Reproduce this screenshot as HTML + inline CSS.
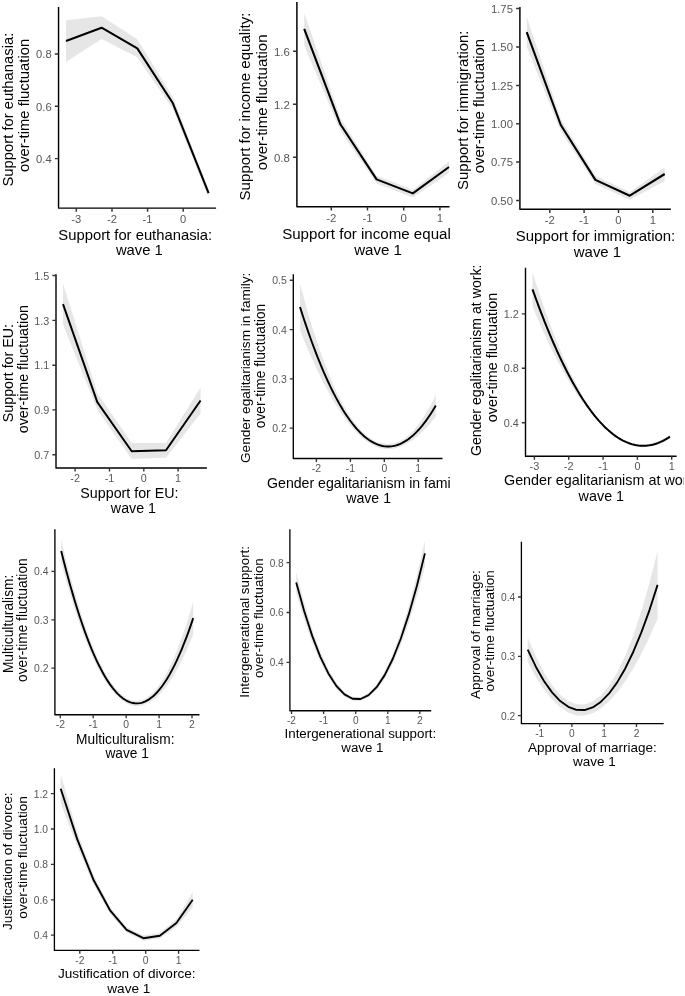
<!DOCTYPE html>
<html><head><meta charset="utf-8"><title>Figure</title>
<style>
html,body{margin:0;padding:0;background:#fff;}
body{width:685px;height:996px;overflow:hidden;font-family:"Liberation Sans",sans-serif;}
svg{display:block;}
svg text{font-family:"Liberation Sans",sans-serif;}
.t{fill:#000;}
.k{fill:#575757;}
</style></head><body>
<svg width="685" height="996" viewBox="0 0 685 996">
<defs><filter id="soft" filterUnits="userSpaceOnUse" x="0" y="0" width="685" height="996"><feGaussianBlur stdDeviation="0.35"/></filter></defs>
<rect x="0" y="0" width="685" height="996" fill="#ffffff"/>
<g filter="url(#soft)">

<clipPath id="c0"><rect x="0.00" y="0.00" width="228.00" height="262.00"/></clipPath>
<g clip-path="url(#c0)">
<polygon points="66.00,20.20 101.60,16.20 137.30,39.30 172.90,97.30 208.60,189.50 208.60,197.70 172.90,108.90 137.30,57.30 101.60,38.90 66.00,62.00" fill="#e6e6e6"/>
<polyline points="66.00,41.00 101.60,27.70 137.30,48.40 172.90,103.30 208.60,193.10" fill="none" stroke="#000" stroke-width="2.05" stroke-linejoin="round" stroke-linecap="butt"/>
<path d="M58.55 7.00 V208.10 H216.10" fill="none" stroke="#000" stroke-width="1.45" stroke-linejoin="round"/>
<path d="M54.80 54.00H58.55M54.80 106.30H58.55M54.80 158.60H58.55M76.30 208.10V211.85M112.00 208.10V211.85M147.60 208.10V211.85M183.20 208.10V211.85" stroke="#333333" stroke-width="1.45" fill="none"/>
<text class="k" font-size="11.20" x="51.65" y="58.30" text-anchor="end">0.8</text>
<text class="k" font-size="11.20" x="51.65" y="110.60" text-anchor="end">0.6</text>
<text class="k" font-size="11.20" x="51.65" y="162.90" text-anchor="end">0.4</text>
<text class="k" font-size="11.20" x="76.30" y="222.90" text-anchor="middle">-3</text>
<text class="k" font-size="11.20" x="112.00" y="222.90" text-anchor="middle">-2</text>
<text class="k" font-size="11.20" x="147.60" y="222.90" text-anchor="middle">-1</text>
<text class="k" font-size="11.20" x="183.20" y="222.90" text-anchor="middle">0</text>
<text class="t" font-size="14.80" x="135.27" y="239.50" text-anchor="middle">Support for euthanasia:</text>
<text class="t" font-size="14.80" x="139.38" y="255.30" text-anchor="middle">wave 1</text>
<text class="t" font-size="14.80" transform="translate(12.98 109.61) rotate(-90)" text-anchor="middle">Support for euthanasia:</text>
<text class="t" font-size="14.80" transform="translate(28.78 105.49) rotate(-90)" text-anchor="middle">over-time fluctuation</text>
</g>
<clipPath id="c1"><rect x="228.00" y="0.00" width="222.00" height="262.00"/></clipPath>
<g clip-path="url(#c1)">
<polygon points="304.20,13.00 340.40,118.00 376.60,175.70 412.80,189.70 449.00,161.60 449.00,172.90 412.80,197.40 376.60,183.40 340.40,130.80 304.20,45.50" fill="#e6e6e6"/>
<polyline points="304.20,28.80 340.40,124.30 376.60,179.40 412.80,193.40 449.00,167.00" fill="none" stroke="#000" stroke-width="2.09" stroke-linejoin="round" stroke-linecap="butt"/>
<path d="M296.90 2.00 V206.80 H449.50" fill="none" stroke="#000" stroke-width="1.48" stroke-linejoin="round"/>
<path d="M293.07 51.20H296.90M293.07 104.20H296.90M293.07 157.20H296.90M331.30 206.80V210.62M367.50 206.80V210.62M403.70 206.80V210.62M439.90 206.80V210.62" stroke="#333333" stroke-width="1.48" fill="none"/>
<text class="k" font-size="11.42" x="289.86" y="55.59" text-anchor="end">1.6</text>
<text class="k" font-size="11.42" x="289.86" y="108.59" text-anchor="end">1.2</text>
<text class="k" font-size="11.42" x="289.86" y="161.59" text-anchor="end">0.8</text>
<text class="k" font-size="11.42" x="331.30" y="221.90" text-anchor="middle">-2</text>
<text class="k" font-size="11.42" x="367.50" y="221.90" text-anchor="middle">-1</text>
<text class="k" font-size="11.42" x="403.70" y="221.90" text-anchor="middle">0</text>
<text class="k" font-size="11.42" x="439.90" y="221.90" text-anchor="middle">1</text>
<text class="t" font-size="15.10" x="376.10" y="238.83" text-anchor="middle">Support for income equality:</text>
<text class="t" font-size="15.10" x="378.10" y="254.94" text-anchor="middle">wave 1</text>
<text class="t" font-size="15.10" transform="translate(250.42 106.50) rotate(-90)" text-anchor="middle">Support for income equality:</text>
<text class="t" font-size="15.10" transform="translate(266.54 102.30) rotate(-90)" text-anchor="middle">over-time fluctuation</text>
</g>
<clipPath id="c2"><rect x="452.00" y="0.00" width="233.00" height="262.00"/></clipPath>
<g clip-path="url(#c2)">
<polygon points="526.70,16.80 560.80,119.10 595.40,175.70 629.80,192.00 664.70,167.50 664.70,181.00 629.80,199.70 595.40,184.10 560.80,131.30 526.70,46.70" fill="#e6e6e6"/>
<polyline points="526.70,32.20 560.80,125.00 595.40,179.90 629.80,195.70 664.70,174.00" fill="none" stroke="#000" stroke-width="2.07" stroke-linejoin="round" stroke-linecap="butt"/>
<path d="M519.90 7.00 V209.30 H670.90" fill="none" stroke="#000" stroke-width="1.46" stroke-linejoin="round"/>
<path d="M516.11 8.60H519.90M516.11 47.00H519.90M516.11 85.40H519.90M516.11 123.80H519.90M516.11 162.10H519.90M516.11 200.50H519.90M549.80 209.30V213.09M584.10 209.30V213.09M618.50 209.30V213.09M652.80 209.30V213.09" stroke="#333333" stroke-width="1.46" fill="none"/>
<text class="k" font-size="11.31" x="512.93" y="12.94" text-anchor="end">1.75</text>
<text class="k" font-size="11.31" x="512.93" y="51.34" text-anchor="end">1.50</text>
<text class="k" font-size="11.31" x="512.93" y="89.74" text-anchor="end">1.25</text>
<text class="k" font-size="11.31" x="512.93" y="128.14" text-anchor="end">1.00</text>
<text class="k" font-size="11.31" x="512.93" y="166.44" text-anchor="end">0.75</text>
<text class="k" font-size="11.31" x="512.93" y="204.84" text-anchor="end">0.50</text>
<text class="k" font-size="11.31" x="549.80" y="224.25" text-anchor="middle">-2</text>
<text class="k" font-size="11.31" x="584.10" y="224.25" text-anchor="middle">-1</text>
<text class="k" font-size="11.31" x="618.50" y="224.25" text-anchor="middle">0</text>
<text class="k" font-size="11.31" x="652.80" y="224.25" text-anchor="middle">1</text>
<text class="t" font-size="14.95" x="595.52" y="241.01" text-anchor="middle">Support for immigration:</text>
<text class="t" font-size="14.95" x="597.48" y="256.97" text-anchor="middle">wave 1</text>
<text class="t" font-size="14.95" transform="translate(467.59 110.23) rotate(-90)" text-anchor="middle">Support for immigration:</text>
<text class="t" font-size="14.95" transform="translate(483.54 106.07) rotate(-90)" text-anchor="middle">over-time fluctuation</text>
</g>
<clipPath id="c3"><rect x="0.00" y="262.00" width="228.00" height="260.00"/></clipPath>
<g clip-path="url(#c3)">
<polygon points="63.00,283.40 97.30,393.00 131.70,443.00 166.00,443.00 200.60,387.60 200.60,413.30 166.00,457.70 131.70,458.90 97.30,409.80 63.00,324.60" fill="#e6e6e6"/>
<polyline points="63.00,304.20 97.30,402.10 131.70,451.20 166.00,450.20 200.60,400.50" fill="none" stroke="#000" stroke-width="1.97" stroke-linejoin="round" stroke-linecap="butt"/>
<path d="M56.00 274.30 V467.95 H206.90" fill="none" stroke="#000" stroke-width="1.40" stroke-linejoin="round"/>
<path d="M52.39 275.50H56.00M52.39 320.40H56.00M52.39 365.20H56.00M52.39 409.90H56.00M52.39 454.70H56.00M75.10 467.95V471.56M109.50 467.95V471.56M143.80 467.95V471.56M178.10 467.95V471.56" stroke="#333333" stroke-width="1.40" fill="none"/>
<text class="k" font-size="10.79" x="49.36" y="279.64" text-anchor="end">1.5</text>
<text class="k" font-size="10.79" x="49.36" y="324.54" text-anchor="end">1.3</text>
<text class="k" font-size="10.79" x="49.36" y="369.34" text-anchor="end">1.1</text>
<text class="k" font-size="10.79" x="49.36" y="414.04" text-anchor="end">0.9</text>
<text class="k" font-size="10.79" x="49.36" y="458.84" text-anchor="end">0.7</text>
<text class="k" font-size="10.79" x="75.10" y="482.20" text-anchor="middle">-2</text>
<text class="k" font-size="10.79" x="109.50" y="482.20" text-anchor="middle">-1</text>
<text class="k" font-size="10.79" x="143.80" y="482.20" text-anchor="middle">0</text>
<text class="k" font-size="10.79" x="178.10" y="482.20" text-anchor="middle">1</text>
<text class="t" font-size="14.25" x="129.47" y="498.19" text-anchor="middle">Support for EU:</text>
<text class="t" font-size="14.25" x="133.43" y="513.40" text-anchor="middle">wave 1</text>
<text class="t" font-size="14.25" transform="translate(12.82 373.11) rotate(-90)" text-anchor="middle">Support for EU:</text>
<text class="t" font-size="14.25" transform="translate(28.03 369.14) rotate(-90)" text-anchor="middle">over-time fluctuation</text>
</g>
<clipPath id="c4"><rect x="228.00" y="273.00" width="222.00" height="249.00"/></clipPath>
<g clip-path="url(#c4)">
<polygon points="300.00,283.70 301.72,290.21 303.44,296.57 305.16,302.79 306.88,308.86 308.59,314.79 310.31,320.58 312.03,326.22 313.75,331.72 315.47,337.08 317.19,342.30 318.91,347.38 320.63,352.32 322.35,357.12 324.07,361.79 325.78,366.31 327.50,370.70 329.22,374.96 330.94,379.08 332.66,383.06 334.38,386.91 336.10,390.63 337.82,394.21 339.54,397.66 341.26,400.98 342.97,404.18 344.69,407.24 346.41,410.17 348.13,412.97 349.85,415.65 351.57,418.20 353.29,420.63 355.01,422.92 356.73,425.10 358.45,427.15 360.16,429.08 361.88,430.88 363.60,432.57 365.32,434.13 367.04,435.58 368.76,436.90 370.48,438.11 372.20,439.20 373.92,440.18 375.64,441.03 377.35,441.78 379.07,442.41 380.79,442.93 382.51,443.34 384.23,443.63 385.95,443.82 387.67,443.90 389.39,443.87 391.11,443.73 392.83,443.46 394.54,443.08 396.26,442.57 397.98,441.94 399.70,441.18 401.42,440.30 403.14,439.29 404.86,438.15 406.58,436.88 408.30,435.48 410.02,433.95 411.73,432.28 413.45,430.49 415.17,428.55 416.89,426.49 418.61,424.29 420.33,421.95 422.05,419.48 423.77,416.87 425.49,414.12 427.21,411.23 428.92,408.21 430.64,405.04 432.36,401.73 434.08,398.29 435.80,394.70 435.80,416.50 434.08,418.70 432.36,420.83 430.64,422.89 428.92,424.88 427.21,426.79 425.49,428.63 423.77,430.40 422.05,432.09 420.33,433.71 418.61,435.25 416.89,436.71 415.17,438.10 413.45,439.41 411.73,440.64 410.02,441.79 408.30,442.86 406.58,443.85 404.86,444.76 403.14,445.59 401.42,446.33 399.70,446.98 397.98,447.56 396.26,448.04 394.54,448.44 392.83,448.74 391.11,448.96 389.39,449.08 387.67,449.10 385.95,449.02 384.23,448.84 382.51,448.55 380.79,448.16 379.07,447.67 377.35,447.08 375.64,446.39 373.92,445.60 372.20,444.72 370.48,443.74 368.76,442.66 367.04,441.49 365.32,440.23 363.60,438.87 361.88,437.42 360.16,435.88 358.45,434.25 356.73,432.53 355.01,430.72 353.29,428.83 351.57,426.84 349.85,424.77 348.13,422.62 346.41,420.37 344.69,418.05 342.97,415.64 341.26,413.15 339.54,410.57 337.82,407.92 336.10,405.18 334.38,402.37 332.66,399.47 330.94,396.50 329.22,393.44 327.50,390.32 325.78,387.11 324.07,383.83 322.35,380.47 320.63,377.04 318.91,373.54 317.19,369.96 315.47,366.31 313.75,362.59 312.03,358.79 310.31,354.93 308.59,351.00 306.88,346.99 305.16,342.92 303.44,338.78 301.72,334.57 300.00,330.30" fill="#e6e6e6"/>
<polyline points="300.00,307.00 301.72,312.39 303.44,317.68 305.16,322.85 306.88,327.93 308.59,332.89 310.31,337.75 312.03,342.51 313.75,347.15 315.47,351.70 317.19,356.13 318.91,360.46 320.63,364.68 322.35,368.80 324.07,372.81 325.78,376.71 327.50,380.51 329.22,384.20 330.94,387.79 332.66,391.26 334.38,394.64 336.10,397.90 337.82,401.06 339.54,404.12 341.26,407.07 342.97,409.91 344.69,412.64 346.41,415.27 348.13,417.79 349.85,420.21 351.57,422.52 353.29,424.73 355.01,426.82 356.73,428.82 358.45,430.70 360.16,432.48 361.88,434.15 363.60,435.72 365.32,437.18 367.04,438.54 368.76,439.78 370.48,440.93 372.20,441.96 373.92,442.89 375.64,443.71 377.35,444.43 379.07,445.04 380.79,445.55 382.51,445.94 384.23,446.24 385.95,446.42 387.67,446.50 389.39,446.47 391.11,446.34 392.83,446.10 394.54,445.76 396.26,445.31 397.98,444.75 399.70,444.08 401.42,443.31 403.14,442.44 404.86,441.45 406.58,440.37 408.30,439.17 410.02,437.87 411.73,436.46 413.45,434.95 415.17,433.33 416.89,431.60 418.61,429.77 420.33,427.83 422.05,425.78 423.77,423.63 425.49,421.38 427.21,419.01 428.92,416.54 430.64,413.97 432.36,411.28 434.08,408.49 435.80,405.60" fill="none" stroke="#000" stroke-width="1.92" stroke-linejoin="round" stroke-linecap="butt"/>
<path d="M293.30 274.30 V458.50 H442.50" fill="none" stroke="#000" stroke-width="1.36" stroke-linejoin="round"/>
<path d="M289.79 280.30H293.30M289.79 329.60H293.30M289.79 378.90H293.30M289.79 428.10H293.30M316.40 458.50V462.01M350.40 458.50V462.01M384.30 458.50V462.01M418.20 458.50V462.01" stroke="#333333" stroke-width="1.36" fill="none"/>
<text class="k" font-size="10.47" x="286.85" y="284.32" text-anchor="end">0.5</text>
<text class="k" font-size="10.47" x="286.85" y="333.62" text-anchor="end">0.4</text>
<text class="k" font-size="10.47" x="286.85" y="382.92" text-anchor="end">0.3</text>
<text class="k" font-size="10.47" x="286.85" y="432.12" text-anchor="end">0.2</text>
<text class="k" font-size="10.47" x="316.40" y="472.34" text-anchor="middle">-2</text>
<text class="k" font-size="10.47" x="350.40" y="472.34" text-anchor="middle">-1</text>
<text class="k" font-size="10.47" x="384.30" y="472.34" text-anchor="middle">0</text>
<text class="k" font-size="10.47" x="418.20" y="472.34" text-anchor="middle">1</text>
<text class="t" font-size="14.13" x="365.98" y="487.86" text-anchor="middle">Gender egalitarianism in family:</text>
<text class="t" font-size="14.13" x="368.62" y="502.63" text-anchor="middle">wave 1</text>
<text class="t" font-size="13.60" transform="translate(249.69 463.00) rotate(-90)" text-anchor="start">Gender egalitarianism in family:</text>
<text class="t" font-size="13.84" transform="translate(265.47 365.98) rotate(-90)" text-anchor="middle">over-time fluctuation</text>
</g>
<clipPath id="c5"><rect x="452.00" y="266.80" width="231.30" height="255.00"/></clipPath>
<g clip-path="url(#c5)">
<polygon points="532.50,272.30 534.24,277.82 535.98,283.25 537.72,288.60 539.46,293.86 541.20,299.03 542.94,304.11 544.67,309.11 546.41,314.02 548.15,318.83 549.89,323.57 551.63,328.21 553.37,332.76 555.11,337.22 556.85,341.60 558.59,345.89 560.33,350.08 562.07,354.19 563.81,358.21 565.55,362.13 567.28,365.97 569.02,369.72 570.76,373.37 572.50,376.94 574.24,380.41 575.98,383.79 577.72,387.08 579.46,390.27 581.20,393.37 582.94,396.38 584.68,399.30 586.42,402.11 588.16,404.83 589.89,407.46 591.63,409.98 593.37,412.41 595.11,414.73 596.85,416.95 598.59,419.05 600.33,421.03 602.07,422.89 603.81,424.68 605.55,426.39 607.29,428.03 609.03,429.58 610.77,431.06 612.51,432.47 614.24,433.79 615.98,435.04 617.72,436.21 619.46,437.30 621.20,438.32 622.94,439.26 624.68,440.12 626.42,440.90 628.16,441.61 629.90,442.24 631.64,442.79 633.38,443.27 635.12,443.67 636.85,443.99 638.59,444.23 640.33,444.39 642.07,444.44 643.81,444.41 645.55,444.30 647.29,444.12 649.03,443.86 650.77,443.52 652.51,443.10 654.25,442.61 655.99,442.04 657.73,441.39 659.46,440.67 661.20,439.87 662.94,438.99 664.68,438.03 666.42,437.00 668.16,435.89 669.90,434.70 669.90,438.70 668.16,439.80 666.42,440.83 664.68,441.79 662.94,442.66 661.20,443.46 659.46,444.18 657.73,444.82 655.99,445.39 654.25,445.88 652.51,446.29 650.77,446.62 649.03,446.88 647.29,447.06 645.55,447.16 643.81,447.19 642.07,447.13 640.33,447.00 638.59,446.83 636.85,446.59 635.12,446.27 633.38,445.87 631.64,445.39 629.90,444.84 628.16,444.21 626.42,443.50 624.68,442.72 622.94,441.86 621.20,440.92 619.46,439.90 617.72,438.81 615.98,437.64 614.24,436.39 612.51,435.07 610.77,433.66 609.03,432.18 607.29,430.63 605.55,428.99 603.81,427.28 602.07,425.49 600.33,423.63 598.59,421.72 596.85,419.78 595.11,417.80 593.37,415.78 591.63,413.70 589.89,411.56 588.16,409.37 586.42,407.13 584.68,404.82 582.94,402.46 581.20,400.04 579.46,397.55 577.72,395.01 575.98,392.40 574.24,389.73 572.50,387.00 570.76,384.20 569.02,381.35 567.28,378.43 565.55,375.44 563.81,372.39 562.07,369.28 560.33,366.10 558.59,362.86 556.85,359.55 555.11,356.17 553.37,352.73 551.63,349.23 549.89,345.66 548.15,342.02 546.41,338.32 544.67,334.55 542.94,330.71 541.20,326.81 539.46,322.84 537.72,318.81 535.98,314.71 534.24,310.54 532.50,306.30" fill="#e6e6e6"/>
<polyline points="532.50,289.30 534.24,294.18 535.98,298.98 537.72,303.70 539.46,308.35 541.20,312.92 542.94,317.41 544.67,321.83 546.41,326.17 548.15,330.43 549.89,334.61 551.63,338.72 553.37,342.75 555.11,346.70 556.85,350.57 558.59,354.37 560.33,358.09 562.07,361.73 563.81,365.30 565.55,368.79 567.28,372.20 569.02,375.53 570.76,378.79 572.50,381.97 574.24,385.07 575.98,388.09 577.72,391.04 579.46,393.91 581.20,396.71 582.94,399.42 584.68,402.06 586.42,404.62 588.16,407.10 589.89,409.51 591.63,411.84 593.37,414.09 595.11,416.27 596.85,418.36 598.59,420.39 600.33,422.33 602.07,424.19 603.81,425.98 605.55,427.69 607.29,429.33 609.03,430.88 610.77,432.36 612.51,433.77 614.24,435.09 615.98,436.34 617.72,437.51 619.46,438.60 621.20,439.62 622.94,440.56 624.68,441.42 626.42,442.20 628.16,442.91 629.90,443.54 631.64,444.09 633.38,444.57 635.12,444.97 636.85,445.29 638.59,445.53 640.33,445.70 642.07,445.78 643.81,445.80 645.55,445.73 647.29,445.59 649.03,445.37 650.77,445.07 652.51,444.70 654.25,444.24 655.99,443.71 657.73,443.11 659.46,442.42 661.20,441.66 662.94,440.83 664.68,439.91 666.42,438.92 668.16,437.85 669.90,436.70" fill="none" stroke="#000" stroke-width="1.99" stroke-linejoin="round" stroke-linecap="butt"/>
<path d="M525.50 267.80 V456.20 H676.60" fill="none" stroke="#000" stroke-width="1.41" stroke-linejoin="round"/>
<path d="M521.86 313.90H525.50M521.86 368.30H525.50M521.86 422.70H525.50M534.40 456.20V459.84M568.70 456.20V459.84M603.10 456.20V459.84M637.40 456.20V459.84M671.70 456.20V459.84" stroke="#333333" stroke-width="1.41" fill="none"/>
<text class="k" font-size="10.86" x="518.81" y="318.07" text-anchor="end">1.2</text>
<text class="k" font-size="10.86" x="518.81" y="372.47" text-anchor="end">0.8</text>
<text class="k" font-size="10.86" x="518.81" y="426.87" text-anchor="end">0.4</text>
<text class="k" font-size="10.86" x="534.40" y="469.66" text-anchor="middle">-3</text>
<text class="k" font-size="10.86" x="568.70" y="469.66" text-anchor="middle">-2</text>
<text class="k" font-size="10.86" x="603.10" y="469.66" text-anchor="middle">-1</text>
<text class="k" font-size="10.86" x="637.40" y="469.66" text-anchor="middle">0</text>
<text class="k" font-size="10.86" x="671.70" y="469.66" text-anchor="middle">1</text>
<text class="t" font-size="14.36" x="601.35" y="485.46" text-anchor="middle">Gender egalitarianism at work:</text>
<text class="t" font-size="14.36" x="601.35" y="500.78" text-anchor="middle">wave 1</text>
<text class="t" font-size="14.14" transform="translate(481.30 456.10) rotate(-90)" text-anchor="start">Gender egalitarianism at work:</text>
<text class="t" font-size="14.36" transform="translate(496.63 357.50) rotate(-90)" text-anchor="middle">over-time fluctuation</text>
</g>
<clipPath id="c6"><rect x="0.00" y="522.00" width="228.00" height="240.00"/></clipPath>
<g clip-path="url(#c6)">
<polygon points="61.20,539.60 62.87,546.66 64.54,553.57 66.21,560.31 67.88,566.90 69.55,573.33 71.23,579.60 72.90,585.72 74.57,591.67 76.24,597.47 77.91,603.11 79.58,608.59 81.25,613.91 82.92,619.08 84.59,624.09 86.26,628.94 87.93,633.63 89.61,638.16 91.28,642.53 92.95,646.75 94.62,650.81 96.29,654.71 97.96,658.45 99.63,662.04 101.30,665.46 102.97,668.73 104.64,671.84 106.31,674.79 107.98,677.59 109.66,680.22 111.33,682.70 113.00,685.02 114.67,687.18 116.34,689.19 118.01,691.03 119.68,692.72 121.35,694.25 123.02,695.62 124.69,696.83 126.36,697.89 128.04,698.79 129.71,699.52 131.38,700.11 133.05,700.53 134.72,700.79 136.39,700.90 138.06,700.84 139.73,700.61 141.40,700.20 143.07,699.62 144.74,698.87 146.42,697.95 148.09,696.85 149.76,695.58 151.43,694.13 153.10,692.51 154.77,690.72 156.44,688.76 158.11,686.62 159.78,684.31 161.45,681.82 163.12,679.17 164.79,676.34 166.47,673.33 168.14,670.15 169.81,666.80 171.48,663.28 173.15,659.58 174.82,655.71 176.49,651.67 178.16,647.45 179.83,643.06 181.50,638.50 183.17,633.76 184.85,628.85 186.52,623.77 188.19,618.51 189.86,613.08 191.53,607.48 193.20,601.70 193.20,634.50 191.53,638.66 189.86,642.70 188.19,646.62 186.52,650.41 184.85,654.07 183.17,657.61 181.50,661.03 179.83,664.31 178.16,667.48 176.49,670.52 174.82,673.43 173.15,676.22 171.48,678.88 169.81,681.42 168.14,683.83 166.47,686.12 164.79,688.28 163.12,690.32 161.45,692.23 159.78,694.02 158.11,695.68 156.44,697.22 154.77,698.63 153.10,699.92 151.43,701.08 149.76,702.11 148.09,703.03 146.42,703.81 144.74,704.47 143.07,705.01 141.40,705.42 139.73,705.70 138.06,705.86 136.39,705.90 134.72,705.80 133.05,705.56 131.38,705.19 129.71,704.67 128.04,704.01 126.36,703.21 124.69,702.27 123.02,701.19 121.35,699.97 119.68,698.61 118.01,697.11 116.34,695.47 114.67,693.69 113.00,691.76 111.33,689.70 109.66,687.50 107.98,685.16 106.31,682.68 104.64,680.05 102.97,677.29 101.30,674.38 99.63,671.34 97.96,668.16 96.29,664.83 94.62,661.37 92.95,657.76 91.28,654.02 89.61,650.13 87.93,646.10 86.26,641.94 84.59,637.63 82.92,633.18 81.25,628.59 79.58,623.87 77.91,619.00 76.24,613.99 74.57,608.84 72.90,603.55 71.23,598.12 69.55,592.55 67.88,586.84 66.21,580.99 64.54,575.00 62.87,568.87 61.20,562.60" fill="#e6e6e6"/>
<polyline points="61.20,551.10 62.87,557.77 64.54,564.28 66.21,570.65 67.88,576.87 69.55,582.94 71.23,588.86 72.90,594.63 74.57,600.26 76.24,605.73 77.91,611.05 79.58,616.23 81.25,621.25 82.92,626.13 84.59,630.86 86.26,635.44 87.93,639.86 89.61,644.14 91.28,648.27 92.95,652.26 94.62,656.09 96.29,659.77 97.96,663.30 99.63,666.69 101.30,669.92 102.97,673.01 104.64,675.95 106.31,678.73 107.98,681.37 109.66,683.86 111.33,686.20 113.00,688.39 114.67,690.43 116.34,692.33 118.01,694.07 119.68,695.66 121.35,697.11 123.02,698.41 124.69,699.55 126.36,700.55 128.04,701.40 129.71,702.10 131.38,702.65 133.05,703.05 134.72,703.30 136.39,703.40 138.06,703.35 139.73,703.16 141.40,702.81 143.07,702.32 144.74,701.67 146.42,700.88 148.09,699.94 149.76,698.85 151.43,697.61 153.10,696.22 154.77,694.68 156.44,692.99 158.11,691.15 159.78,689.16 161.45,687.03 163.12,684.74 164.79,682.31 166.47,679.73 168.14,676.99 169.81,674.11 171.48,671.08 173.15,667.90 174.82,664.57 176.49,661.09 178.16,657.46 179.83,653.69 181.50,649.76 183.17,645.69 184.85,641.46 186.52,637.09 188.19,632.56 189.86,627.89 191.53,623.07 193.20,618.10" fill="none" stroke="#000" stroke-width="1.90" stroke-linejoin="round" stroke-linecap="butt"/>
<path d="M54.90 529.30 V714.75 H199.50" fill="none" stroke="#000" stroke-width="1.34" stroke-linejoin="round"/>
<path d="M51.42 571.40H54.90M51.42 619.80H54.90M51.42 668.10H54.90M60.30 714.75V718.23M93.20 714.75V718.23M126.20 714.75V718.23M159.10 714.75V718.23M192.00 714.75V718.23" stroke="#333333" stroke-width="1.34" fill="none"/>
<text class="k" font-size="10.38" x="48.50" y="575.39" text-anchor="end">0.4</text>
<text class="k" font-size="10.38" x="48.50" y="623.79" text-anchor="end">0.3</text>
<text class="k" font-size="10.38" x="48.50" y="672.09" text-anchor="end">0.2</text>
<text class="k" font-size="10.38" x="60.30" y="728.47" text-anchor="middle">-2</text>
<text class="k" font-size="10.38" x="93.20" y="728.47" text-anchor="middle">-1</text>
<text class="k" font-size="10.38" x="126.20" y="728.47" text-anchor="middle">0</text>
<text class="k" font-size="10.38" x="159.10" y="728.47" text-anchor="middle">1</text>
<text class="k" font-size="10.38" x="192.00" y="728.47" text-anchor="middle">2</text>
<text class="t" font-size="13.72" x="125.29" y="743.56" text-anchor="middle">Multiculturalism:</text>
<text class="t" font-size="13.72" x="127.11" y="758.20" text-anchor="middle">wave 1</text>
<text class="t" font-size="13.72" transform="translate(12.66 623.93) rotate(-90)" text-anchor="middle">Multiculturalism:</text>
<text class="t" font-size="13.72" transform="translate(27.31 620.12) rotate(-90)" text-anchor="middle">over-time fluctuation</text>
</g>
<clipPath id="c7"><rect x="228.00" y="522.00" width="222.00" height="240.00"/></clipPath>
<g clip-path="url(#c7)">
<polygon points="296.20,571.90 304.24,602.92 312.29,629.54 320.33,651.77 328.38,669.60 336.42,683.03 344.46,692.07 352.51,696.72 360.55,696.97 368.59,692.81 376.64,684.25 384.68,671.29 392.72,653.92 400.77,632.15 408.81,605.97 416.86,575.39 424.90,540.40 424.90,566.40 416.86,596.49 408.81,622.79 400.77,645.30 392.72,664.03 384.68,678.96 376.64,690.11 368.59,697.46 360.55,701.03 352.51,700.81 344.46,696.79 336.42,688.97 328.38,677.35 320.33,661.94 312.29,642.72 304.24,619.71 296.20,592.90" fill="#e6e6e6"/>
<polyline points="296.20,582.40 304.24,611.31 312.29,636.13 320.33,656.85 328.38,673.47 336.42,686.00 344.46,694.43 352.51,698.76 360.55,699.00 368.59,695.14 376.64,687.18 384.68,675.13 392.72,658.97 400.77,638.73 408.81,614.38 416.86,585.94 424.90,553.40" fill="none" stroke="#000" stroke-width="1.84" stroke-linejoin="round" stroke-linecap="butt"/>
<path d="M289.90 529.30 V710.75 H431.20" fill="none" stroke="#000" stroke-width="1.30" stroke-linejoin="round"/>
<path d="M286.52 562.70H289.90M286.52 612.50H289.90M286.52 662.30H289.90M291.50 710.75V714.12M323.60 710.75V714.12M355.70 710.75V714.12M387.80 710.75V714.12M419.80 710.75V714.12" stroke="#333333" stroke-width="1.30" fill="none"/>
<text class="k" font-size="10.08" x="283.69" y="566.57" text-anchor="end">0.8</text>
<text class="k" font-size="10.08" x="283.69" y="616.37" text-anchor="end">0.6</text>
<text class="k" font-size="10.08" x="283.69" y="666.17" text-anchor="end">0.4</text>
<text class="k" font-size="10.08" x="291.50" y="724.07" text-anchor="middle">-2</text>
<text class="k" font-size="10.08" x="323.60" y="724.07" text-anchor="middle">-1</text>
<text class="k" font-size="10.08" x="355.70" y="724.07" text-anchor="middle">0</text>
<text class="k" font-size="10.08" x="387.80" y="724.07" text-anchor="middle">1</text>
<text class="k" font-size="10.08" x="419.80" y="724.07" text-anchor="middle">2</text>
<text class="t" font-size="13.32" x="360.40" y="738.21" text-anchor="middle">Intergenerational support:</text>
<text class="t" font-size="13.32" x="362.40" y="752.43" text-anchor="middle">wave 1</text>
<text class="t" font-size="13.32" transform="translate(248.89 621.88) rotate(-90)" text-anchor="middle">Intergenerational support:</text>
<text class="t" font-size="13.32" transform="translate(263.11 618.17) rotate(-90)" text-anchor="middle">over-time fluctuation</text>
</g>
<clipPath id="c8"><rect x="452.00" y="522.00" width="233.00" height="252.00"/></clipPath>
<g clip-path="url(#c8)">
<polygon points="527.70,637.40 535.82,656.55 543.94,672.48 552.06,685.20 560.18,694.73 568.29,701.10 576.41,704.34 584.53,704.52 592.65,701.62 600.77,695.43 608.89,685.82 617.01,672.69 625.12,655.92 633.24,635.45 641.36,611.18 649.48,583.05 657.60,551.00 657.60,618.80 649.48,637.09 641.36,653.68 633.24,668.50 625.12,681.47 617.01,692.51 608.89,701.55 600.77,708.48 592.65,713.20 584.53,715.56 576.41,715.38 568.29,712.62 560.18,707.35 552.06,699.61 543.94,689.43 535.82,676.82 527.70,661.80" fill="#e6e6e6"/>
<polyline points="527.70,649.60 535.82,666.69 543.94,680.96 552.06,692.41 560.18,701.04 568.29,706.86 576.41,709.86 584.53,710.04 592.65,707.41 600.77,701.96 608.89,693.69 617.01,682.60 625.12,668.69 633.24,651.97 641.36,632.43 649.48,610.07 657.60,584.90" fill="none" stroke="#000" stroke-width="1.87" stroke-linejoin="round" stroke-linecap="butt"/>
<path d="M521.40 541.70 V723.70 H663.70" fill="none" stroke="#000" stroke-width="1.32" stroke-linejoin="round"/>
<path d="M517.99 597.00H521.40M517.99 656.40H521.40M517.99 715.70H521.40M539.70 723.70V727.11M571.90 723.70V727.11M604.20 723.70V727.11M636.50 723.70V727.11" stroke="#333333" stroke-width="1.32" fill="none"/>
<text class="k" font-size="10.19" x="515.12" y="600.91" text-anchor="end">0.4</text>
<text class="k" font-size="10.19" x="515.12" y="660.31" text-anchor="end">0.3</text>
<text class="k" font-size="10.19" x="515.12" y="719.61" text-anchor="end">0.2</text>
<text class="k" font-size="10.19" x="539.70" y="737.17" text-anchor="middle">-1</text>
<text class="k" font-size="10.19" x="571.90" y="737.17" text-anchor="middle">0</text>
<text class="k" font-size="10.19" x="604.20" y="737.17" text-anchor="middle">1</text>
<text class="k" font-size="10.19" x="636.50" y="737.17" text-anchor="middle">2</text>
<text class="t" font-size="13.47" x="592.38" y="751.77" text-anchor="middle">Approval of marriage:</text>
<text class="t" font-size="13.47" x="594.42" y="766.15" text-anchor="middle">wave 1</text>
<text class="t" font-size="13.47" transform="translate(479.93 634.57) rotate(-90)" text-anchor="middle">Approval of marriage:</text>
<text class="t" font-size="13.47" transform="translate(494.31 630.83) rotate(-90)" text-anchor="middle">over-time fluctuation</text>
</g>
<clipPath id="c9"><rect x="0.00" y="762.00" width="228.00" height="234.00"/></clipPath>
<g clip-path="url(#c9)">
<polygon points="60.70,774.00 77.30,832.40 93.70,875.30 110.30,907.20 126.60,927.00 143.40,935.60 159.80,932.90 176.40,919.00 192.70,892.00 192.70,907.60 176.40,927.00 159.80,938.50 143.40,940.80 126.60,932.60 110.30,914.20 93.70,885.30 77.30,846.40 60.70,803.20" fill="#e6e6e6"/>
<polyline points="60.70,788.70 77.30,839.40 93.70,880.30 110.30,910.70 126.60,929.80 143.40,938.20 159.80,935.70 176.40,923.00 192.70,899.70" fill="none" stroke="#000" stroke-width="1.89" stroke-linejoin="round" stroke-linecap="butt"/>
<path d="M54.40 768.20 V950.40 H199.50" fill="none" stroke="#000" stroke-width="1.33" stroke-linejoin="round"/>
<path d="M50.95 793.60H54.40M50.95 829.00H54.40M50.95 864.40H54.40M50.95 899.80H54.40M50.95 935.10H54.40M79.80 950.40V953.85M112.80 950.40V953.85M145.70 950.40V953.85M178.60 950.40V953.85" stroke="#333333" stroke-width="1.33" fill="none"/>
<text class="k" font-size="10.30" x="48.05" y="797.56" text-anchor="end">1.2</text>
<text class="k" font-size="10.30" x="48.05" y="832.96" text-anchor="end">1.0</text>
<text class="k" font-size="10.30" x="48.05" y="868.36" text-anchor="end">0.8</text>
<text class="k" font-size="10.30" x="48.05" y="903.76" text-anchor="end">0.6</text>
<text class="k" font-size="10.30" x="48.05" y="939.06" text-anchor="end">0.4</text>
<text class="k" font-size="10.30" x="79.80" y="964.02" text-anchor="middle">-2</text>
<text class="k" font-size="10.30" x="112.80" y="964.02" text-anchor="middle">-1</text>
<text class="k" font-size="10.30" x="145.70" y="964.02" text-anchor="middle">0</text>
<text class="k" font-size="10.30" x="178.60" y="964.02" text-anchor="middle">1</text>
<text class="t" font-size="13.62" x="126.76" y="978.19" text-anchor="middle">Justification of divorce:</text>
<text class="t" font-size="13.62" x="128.84" y="992.72" text-anchor="middle">wave 1</text>
<text class="t" font-size="13.62" transform="translate(12.48 861.19) rotate(-90)" text-anchor="middle">Justification of divorce:</text>
<text class="t" font-size="13.62" transform="translate(27.01 857.41) rotate(-90)" text-anchor="middle">over-time fluctuation</text>
</g>
</g>
</svg>
</body></html>
